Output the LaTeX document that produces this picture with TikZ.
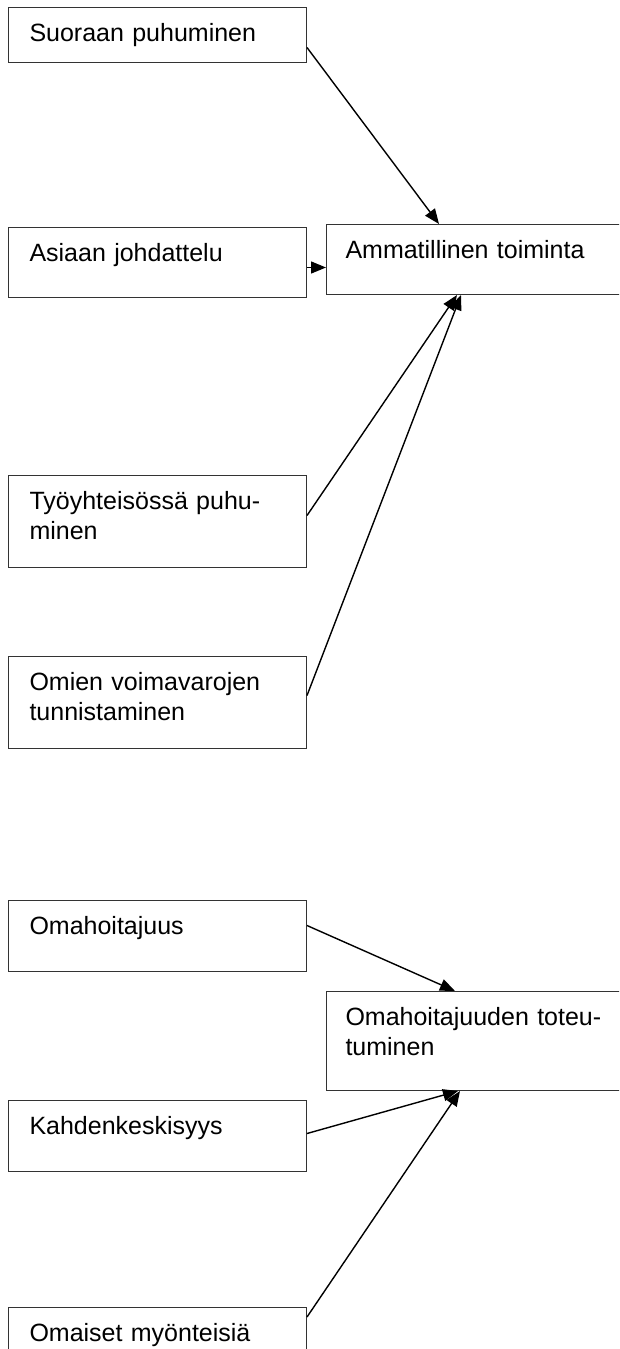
\documentclass[tikz,border=0pt]{standalone}
\usepackage{fontspec}
\setmainfont{Liberation Sans}
\usetikzlibrary{arrows.meta}

\begin{document}
\begin{tikzpicture}[x=1pt, y=-1pt, >={Triangle[length=15pt,width=12pt]},
    box/.style={draw=black!80, line width=1pt, anchor=north west, align=left,
        inner ysep=0pt, text height=34pt,
        font=\fontsize{25}{29.5}\selectfont},
    leftbox/.style={box, text width=256pt, inner xsep=21pt},
    rightbox/.style={box, text width=300pt, inner xsep=19pt},
    link/.style={->, line width=1.4pt}]
    % Page and clipping
    \useasboundingbox (0,0) rectangle (619,1349);
    \clip (0,0) rectangle (619,1349);

    % --- Ammatillinen toiminta ---
    \node[leftbox, text depth=21pt] (suoraan) at (8,7) {Suoraan puhuminen};
    \node[leftbox, text depth=36pt] (asiaan) at (8,227) {Asiaan johdattelu};
    \node[rightbox, text depth=36pt] (ammat) at (326,224) {Ammatillinen toiminta};
    \node[leftbox, text depth=58pt] (tyo) at (8,475) {Työyhteisössä puhu-\\minen};
    \node[leftbox, text depth=58pt] (omien) at (8,656) {Omien voimavarojen\\tunnistaminen};

    \draw[link] ([yshift=-12.5pt]suoraan.east) -- ([xshift=113pt]ammat.north west);
    \draw[link] ([yshift=-5pt]asiaan.east) -- ([yshift=-8pt]ammat.west);
    \draw[link] ([yshift=6pt]tyo.east) -- ([xshift=131pt]ammat.south west);
    \draw[link] ([yshift=7pt]omien.east) -- ([xshift=135pt]ammat.south west);

    % --- Omahoitajuuden toteutuminen ---
    \node[leftbox, text depth=37pt] (omahoit) at (8,900) {Omahoitajuus};
    \node[rightbox, text depth=65pt] (toteut) at (326,991) {Omahoitajuuden toteu-\\tuminen};
    \node[leftbox, text depth=37pt] (kahden) at (8,1100) {Kahdenkeskisyys};
    \node[leftbox, text depth=58pt] (omaiset) at (8,1307) {Omaiset myönteisiä};

    \draw[link] ([yshift=10.5pt]omahoit.east) -- ([xshift=129pt]toteut.north west);
    \draw[link] ([yshift=2.5pt]kahden.east) -- ([xshift=132pt]toteut.south west);
    \draw[link] ([yshift=-10pt]omaiset.north east) -- ([xshift=134pt]toteut.south west);
\end{tikzpicture}
\end{document}
